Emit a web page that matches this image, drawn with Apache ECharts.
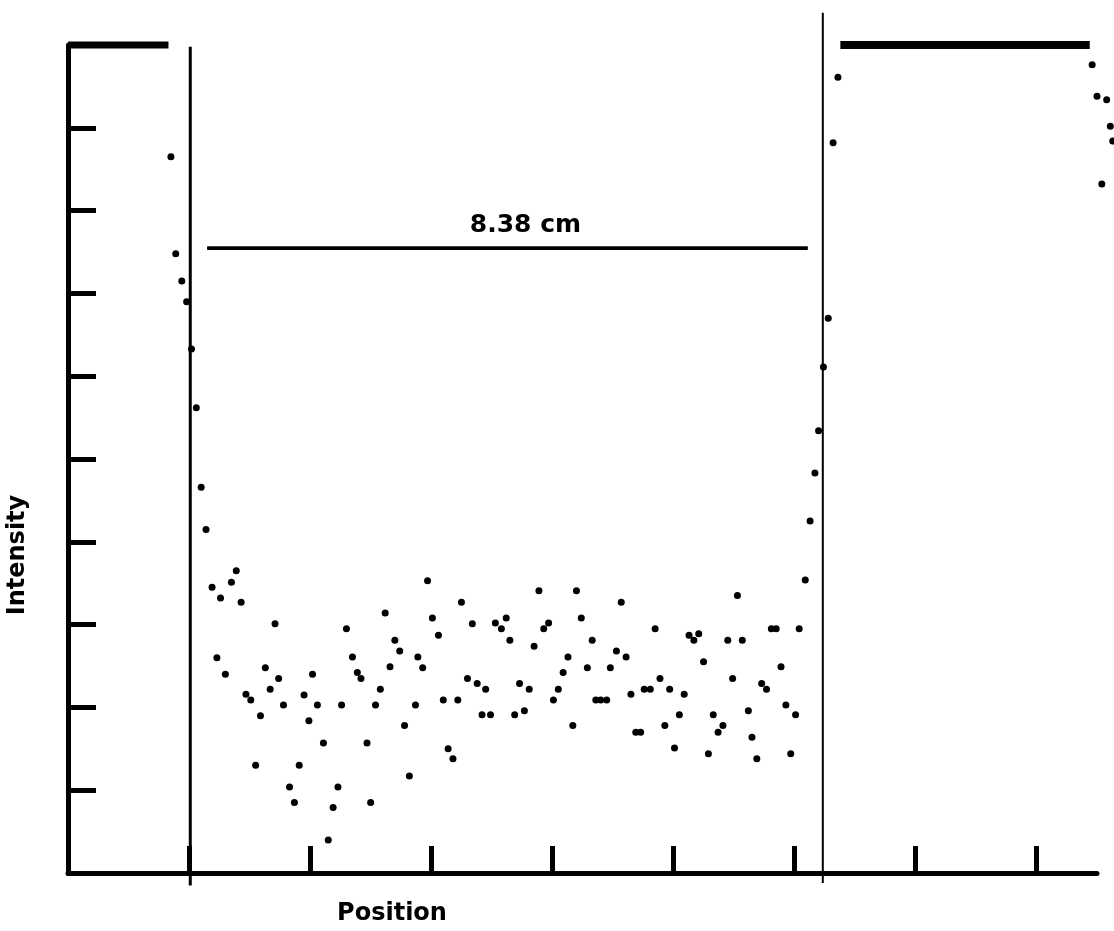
<!DOCTYPE html>
<html style="height: 100%">
<head>
    <meta charset="utf-8">
</head>
<body style="height: 100%; width: 100%; margin: 0; background: #fff;">
    <div id="container" style="height: 931px; width: 1114px;"></div>
    <script type="text/javascript" src="https://cdn.jsdelivr.net/npm/echarts@6/dist/echarts.min.js"></script>
    <script type="text/javascript">
        // position in tick units, intensity in tick units (0..10)
        var leftRise = [[0.85, 8.65], [0.89, 7.48], [0.94, 7.15], [0.98, 6.90], [1.02, 6.33], [1.06, 5.62],
            [1.10, 4.66], [1.14, 4.15], [1.19, 3.45], [1.23, 2.60], [1.26, 3.32], [1.30, 2.40], [1.35, 3.51],
            [1.39, 3.65], [1.43, 3.27]];
        var interior = [[1.47, 2.16], [1.51, 2.09], [1.55, 1.30], [1.59, 1.90], [1.63, 2.48], [1.67, 2.22],
            [1.71, 3.01], [1.74, 2.35], [1.78, 2.03], [1.83, 1.04], [1.87, 0.85], [1.91, 1.30], [1.95, 2.15],
            [1.99, 1.84], [2.02, 2.40], [2.06, 2.03], [2.11, 1.57], [2.15, 0.40], [2.19, 0.79], [2.23, 1.04],
            [2.26, 2.03], [2.30, 2.95], [2.35, 2.61], [2.39, 2.42], [2.42, 2.35], [2.47, 1.57], [2.50, 0.85],
            [2.54, 2.03], [2.58, 2.22], [2.62, 3.14], [2.66, 2.49], [2.70, 2.81], [2.74, 2.68], [2.78, 1.78],
            [2.82, 1.17], [2.87, 2.03], [2.89, 2.61], [2.93, 2.48], [2.97, 3.53], [3.01, 3.08], [3.06, 2.87],
            [3.10, 2.09], [3.14, 1.50], [3.18, 1.38], [3.22, 2.09], [3.25, 3.27], [3.30, 2.35], [3.34, 3.01],
            [3.38, 2.29], [3.42, 1.91], [3.45, 2.22], [3.49, 1.91], [3.53, 3.02], [3.58, 2.95], [3.62, 3.08],
            [3.65, 2.81], [3.69, 1.91], [3.73, 2.29], [3.77, 1.96], [3.81, 2.22], [3.85, 2.74], [3.89, 3.41],
            [3.93, 2.95], [3.97, 3.02], [4.01, 2.09], [4.05, 2.22], [4.09, 2.42], [4.13, 2.61], [4.17, 1.78],
            [4.20, 3.41], [4.24, 3.08], [4.29, 2.48], [4.33, 2.81], [4.36, 2.09], [4.40, 2.09], [4.45, 2.09],
            [4.48, 2.48], [4.53, 2.68], [4.57, 3.27], [4.61, 2.61], [4.65, 2.16], [4.69, 1.70], [4.73, 1.70],
            [4.76, 2.22], [4.81, 2.22], [4.85, 2.95], [4.89, 2.35], [4.93, 1.78], [4.97, 2.22], [5.01, 1.51],
            [5.05, 1.91], [5.09, 2.16], [5.13, 2.87], [5.17, 2.81], [5.21, 2.89], [5.25, 2.55], [5.29, 1.44],
            [5.33, 1.91], [5.37, 1.70], [5.41, 1.78], [5.45, 2.81], [5.49, 2.35], [5.53, 3.35], [5.57, 2.81],
            [5.62, 1.96], [5.65, 1.64], [5.69, 1.38], [5.73, 2.29], [5.77, 2.22], [5.81, 2.95], [5.85, 2.95],
            [5.89, 2.49], [5.93, 2.03], [5.97, 1.44], [6.01, 1.91], [6.04, 2.95]];
        var rightRise = [[6.09, 3.54], [6.13, 4.25], [6.17, 4.83], [6.20, 5.34], [6.24, 6.11], [6.28, 6.70],
            [6.32, 8.82], [6.36, 9.61]];
        var farRight = [[8.46, 9.76], [8.50, 9.38], [8.54, 8.32], [8.58, 9.34], [8.61, 9.02], [8.63, 8.84]];

        // saturated stretches and guide lines
        var leftPlateau = [[0, 10], [0.83, 10]];
        var rightPlateau = [[6.38, 10], [8.44, 10]];
        var leftEdge = [[1.01, -0.15], [1.01, 9.98]];
        var rightEdge = [[6.235, -0.12], [6.235, 10.39]];
        var spanLine = [[1.15, 7.55], [6.11, 7.55]];
        var spanLabel = '8.38 cm';
        var xTicks = [1, 2, 3, 4, 5, 6, 7, 8];
        var yTicks = [1, 2, 3, 4, 5, 6, 7, 8, 9];

        var font = "'DejaVu Sans', sans-serif";

        function guide(data, width) {
            return {
                type: 'line',
                data: data,
                showSymbol: false,
                clip: false,
                silent: true,
                lineStyle: { color: '#000', width: width }
            };
        }

        var dom = document.getElementById('container');
        var myChart = echarts.init(dom);
        var option = {
            backgroundColor: '#fff',
            animation: false,
            grid: { left: 68, top: 45, right: 17, bottom: 58 },
            xAxis: {
                type: 'value',
                min: 0,
                max: 8.5,
                axisLine: { lineStyle: { color: '#000', width: 5 } },
                axisTick: { inside: true, length: 27, customValues: xTicks, lineStyle: { color: '#000', width: 5 } },
                axisLabel: { show: false },
                splitLine: { show: false }
            },
            yAxis: {
                type: 'value',
                min: 0,
                max: 10,
                axisLine: { lineStyle: { color: '#000', width: 5 } },
                axisTick: { inside: true, length: 28, customValues: yTicks, lineStyle: { color: '#000', width: 5 } },
                axisLabel: { show: false },
                splitLine: { show: false }
            },
            graphic: [
                {
                    type: 'text', x: 18, y: 555, rotation: Math.PI / 2,
                    style: { text: 'Intensity', font: 'bold 24px ' + font, fill: '#000', align: 'center', verticalAlign: 'middle' }
                },
                {
                    type: 'text', x: 392, y: 914,
                    style: { text: 'Position', font: 'bold 24px ' + font, fill: '#000', align: 'center', verticalAlign: 'middle' }
                }
            ],
            series: [
                guide(leftPlateau, 7),
                guide(rightPlateau, 8),
                guide(leftEdge, 3),
                guide(rightEdge, 2),
                {
                    type: 'line',
                    data: spanLine,
                    showSymbol: false,
                    silent: true,
                    lineStyle: { color: '#000', width: 3 },
                    markLine: {
                        silent: true,
                        symbol: 'none',
                        lineStyle: { color: '#000', width: 3, type: 'solid' },
                        label: {
                            show: true, position: 'middle', formatter: spanLabel, distance: 10,
                            offset: [18, 0], color: '#000', fontFamily: font, fontWeight: 'bold', fontSize: 25
                        },
                        data: [[{ coord: spanLine[0] }, { coord: spanLine[1] }]]
                    }
                },
                {
                    type: 'scatter',
                    data: leftRise.concat(interior, rightRise, farRight),
                    clip: false,
                    symbolSize: 7,
                    itemStyle: { color: '#000', opacity: 1 }
                }
            ]
        };
        myChart.setOption(option);
        window.onresize = myChart.resize;
    </script>
</body>
</html>
